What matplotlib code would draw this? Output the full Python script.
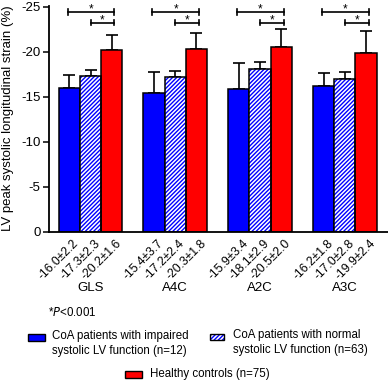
import matplotlib
matplotlib.use("Agg")
import matplotlib.pyplot as plt
from matplotlib.patches import Rectangle
import numpy as np

plt.rcParams['font.family'] = ['Liberation Sans', 'DejaVu Sans']
plt.rcParams['hatch.linewidth'] = 1.0

categories = ["GLS", "A4C", "A2C", "A3C"]
series_names = ["CoA patients with impaired\nsystolic LV function (n=12)",
                "CoA patients with normal\nsystolic LV function (n=63)",
                "Healthy controls (n=75)"]
impaired = [-16.0, -15.4, -15.9, -16.2]
normal = [-17.3, -17.2, -18.1, -17.0]
healthy = [-20.2, -20.3, -20.5, -19.9]
impaired_err = [1.45, 2.4, 2.9, 1.45]
normal_err = [0.65, 0.7, 0.8, 0.8]
healthy_err = [1.7, 1.8, 2.1, 2.4]
value_labels = [
    ["-16.0±2.2", "-17.3±2.3", "-20.2±1.6"],
    ["-15.4±3.7", "-17.2±2.4", "-20.3±1.8"],
    ["-15.9±3.4", "-18.1±2.9", "-20.5±2.0"],
    ["-16.2±1.8", "-17.0±2.8", "-19.9±2.4"],
]
yticks = [0, -5, -10, -15, -20, -25]
ylabel = "LV peak systolic longitudinal strain (%)"
pnote = "*$\\mathit{P}$<0.001"

W, H = 388, 382
fig = plt.figure(figsize=(W / 100, H / 100), dpi=100)
ax = fig.add_axes([49 / W, 1 - 232 / H, 1 - 49 / W, 226 / H])

x = np.arange(len(categories))
bw = 0.25
blue = "#0000FF"
red = "#FF0000"
lw = 1.1
ekw = dict(ecolor="black", elinewidth=1.2, capsize=4.3, capthick=1.2)

zero = np.zeros(len(categories))
ax.bar(x - bw, impaired, bw, color=blue, edgecolor="black", linewidth=lw, zorder=2)
ax.errorbar(x - bw, impaired, yerr=[impaired_err, zero], fmt="none", zorder=1, **ekw)
# hatched bars: hatch in blue, then black outline
ax.bar(x, normal, bw, color="white", edgecolor=blue, hatch="////////", linewidth=0, zorder=2)
ax.bar(x, normal, bw, color="none", edgecolor="black", linewidth=lw, zorder=3)
ax.errorbar(x, normal, yerr=[normal_err, zero], fmt="none", zorder=1, **ekw)
ax.bar(x + bw, healthy, bw, color=red, edgecolor="black", linewidth=lw, zorder=2)
ax.errorbar(x + bw, healthy, yerr=[healthy_err, zero], fmt="none", zorder=1, **ekw)

ax.set_xlim(-0.49, 3.51)
ax.set_ylim(0, -25.1)
ax.set_yticks(yticks)
ax.set_yticklabels([str(t) for t in yticks], fontsize=9.5)
ax.tick_params(axis="y", length=4, width=1.1, pad=2)
ax.set_xticks([])
for s in ["top", "right"]:
    ax.spines[s].set_visible(False)
for s in ["left", "bottom"]:
    ax.spines[s].set_linewidth(1.3)

# significance brackets
def bracket(x0, x1, y, dy=0.3):
    ax.plot([x0, x1], [y, y], color="black", lw=1.2, clip_on=False, zorder=4)
    ax.plot([x0, x0], [y - dy, y + dy], color="black", lw=1.2, clip_on=False, zorder=4)
    ax.plot([x1, x1], [y - dy, y + dy], color="black", lw=1.2, clip_on=False, zorder=4)
    ax.text((x0 + x1) / 2, y + 0.12, "*", ha="center", va="baseline", fontsize=8.5, clip_on=False)

for i in range(len(categories)):
    bracket(x[i] - bw - 0.02, x[i] + bw + 0.03, -24.45)
    bracket(x[i] + 0.0, x[i] + bw + 0.03, -23.25)

# rotated value labels and category labels
for i in range(len(categories)):
    for j, off in enumerate([-bw, 0, bw]):
        ax.annotate(value_labels[i][j], xy=(x[i] + off, 0), xycoords="data",
                    xytext=(2.5, -4), textcoords="offset points",
                    rotation=45, rotation_mode="anchor", ha="right", va="top",
                    fontsize=8.8, annotation_clip=False)
    ax.annotate(categories[i], xy=(x[i], 0), xycoords="data",
                xytext=(0, -56 * 0.72), textcoords="offset points",
                ha="center", va="center", fontsize=9.5, annotation_clip=False)

fig.text(8 / W, 1 - 118 / H, ylabel, rotation=90, ha="center", va="center", fontsize=9.5)
fig.text(48 / W, 1 - 313 / H, pnote, ha="left", va="center", fontsize=8.3)

# legend
def patch(x0, y0, x1, y1, **kw):
    r = Rectangle((x0 / W, 1 - y1 / H), (x1 - x0) / W, (y1 - y0) / H,
                  transform=fig.transFigure, **kw)
    fig.add_artist(r)

patch(27.5, 334, 44.5, 340.5, facecolor=blue, edgecolor="black", linewidth=1.0)
patch(210, 334, 224, 340, facecolor="white", edgecolor=blue, hatch="////////", linewidth=0)
patch(210, 334, 224, 340, facecolor="none", edgecolor="black", linewidth=1.0)
patch(125, 371, 142, 377.5, facecolor=red, edgecolor="black", linewidth=1.0)
fig.text(52.5 / W, 1 - 343.5 / H, series_names[0], ha="left", va="center", fontsize=8.3, linespacing=1.25)
fig.text(233 / W, 1 - 342.5 / H, series_names[1], ha="left", va="center", fontsize=8.3, linespacing=1.25)
fig.text(150 / W, 1 - 374.5 / H, series_names[2], ha="left", va="center", fontsize=8.3)

fig.savefig("out.png", dpi=100)
